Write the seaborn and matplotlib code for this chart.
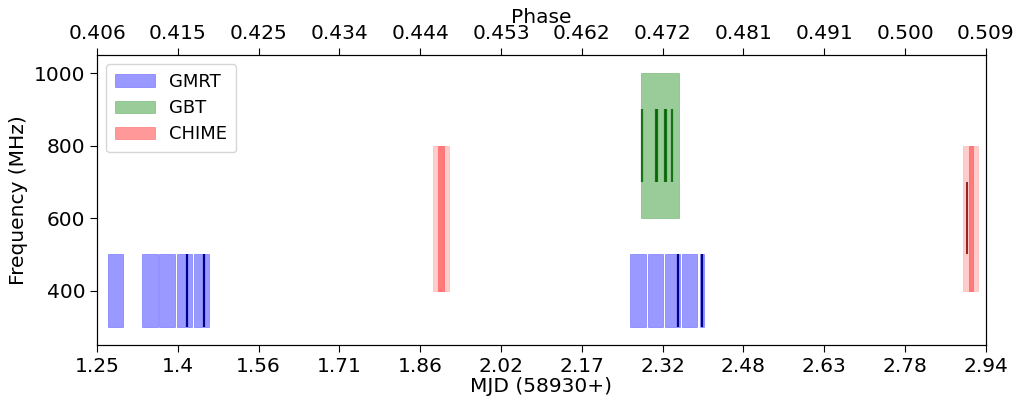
import numpy as np
import matplotlib
matplotlib.use('Agg')
import matplotlib.pyplot as plt
import seaborn as sns

# 观测窗口 (MJD - 58930)
gmrt_start = [1.2709, 1.3361, 1.3684, 1.4021, 1.4344, 2.2639, 2.2968, 2.3298, 2.3627, 2.3958]
gmrt_end = [1.2994, 1.3654, 1.3977, 1.4306, 1.4629, 2.2937, 2.3260, 2.3584, 2.3912, 2.4046]
gmrt_band = [300, 500]
gmrt_bursts = [1.4217, 1.4540, 2.3551, 2.4004]

gbt_start = [2.2836]
gbt_end = [2.3559]
gbt_band = [600, 1000]
gbt_bursts = [2.2867, 2.3131, 2.3146, 2.3296, 2.3311, 2.3425]
gbt_burst_band = [700, 900]

chime_start = [1.8894, 2.8970]
chime_end = [1.9198, 2.9255]
chime_core_start = [1.8989, 2.9078]
chime_core_end = [1.9103, 2.9160]
chime_band = [400, 800]
chime_bursts = [2.9033]
chime_burst_band = [500, 700]

mjd_ticklabels = ['1.25', '1.4', '1.56', '1.71', '1.86', '2.02', '2.17', '2.32',
                  '2.48', '2.63', '2.78', '2.94']
phase_ticklabels = ['0.406', '0.415', '0.425', '0.434', '0.444', '0.453', '0.462',
                    '0.472', '0.481', '0.491', '0.500', '0.509']
freq_ticks = [400, 600, 800, 1000]

sns.set_style('ticks')
plt.rcParams['font.family'] = ['DejaVu Sans']
plt.rcParams['axes.edgecolor'] = 'black'
plt.rcParams['xtick.color'] = 'black'
plt.rcParams['ytick.color'] = 'black'
plt.rcParams['text.color'] = 'black'
plt.rcParams['axes.labelcolor'] = 'black'

fs = 14.5
fig = plt.figure(figsize=(10.17, 4.05), dpi=100)
ax = fig.add_axes([0.0954, 0.148, 0.874, 0.716])


def spans(starts, ends, band, color, alpha, label=None):
    s = np.array(starts)
    w = np.array(ends) - s
    ax.bar(s, band[1] - band[0], width=w, bottom=band[0], align='edge',
           color=color, alpha=alpha, edgecolor=color, linewidth=0.5, label=label)


spans(gmrt_start, gmrt_end, gmrt_band, 'blue', 0.4, 'GMRT')
spans(gbt_start, gbt_end, gbt_band, 'green', 0.4, 'GBT')
spans(chime_start, chime_end, chime_band, 'red', 0.2)
spans(chime_core_start, chime_core_end, chime_band, 'red', 0.4, 'CHIME')

ax.vlines(gmrt_bursts, gmrt_band[0], gmrt_band[1], color='darkblue', lw=1.6)
ax.vlines(gbt_bursts, gbt_burst_band[0], gbt_burst_band[1], color='darkgreen', lw=1.6, alpha=0.85)
ax.vlines(chime_bursts, chime_burst_band[0], chime_burst_band[1], color='darkred', lw=1.4, alpha=0.85)

xticks = np.linspace(1.25, 2.94, len(mjd_ticklabels))
ax.set_xlim(xticks[0], xticks[-1])
ax.set_ylim(250, 1050)
ax.set_xticks(xticks)
ax.set_xticklabels(mjd_ticklabels, fontsize=fs)
ax.set_yticks(freq_ticks)
ax.set_yticklabels([str(f) for f in freq_ticks], fontsize=fs)
ax.set_xlabel('MJD (58930+)', fontsize=fs, labelpad=1)
ax.set_ylabel('Frequency (MHz)', fontsize=fs, labelpad=4)
ax.tick_params(length=5)

ax2 = ax.twiny()
ax2.set_xlim(ax.get_xlim())
ax2.set_xticks(xticks)
ax2.set_xticklabels(phase_ticklabels, fontsize=fs)
ax2.set_xlabel('Phase', fontsize=fs, labelpad=1)
ax2.tick_params(length=5)

ax.legend(loc='upper left', fontsize=13, handlelength=2.2, borderpad=0.5,
          labelspacing=0.45)

fig.savefig('out.png', dpi=100)
